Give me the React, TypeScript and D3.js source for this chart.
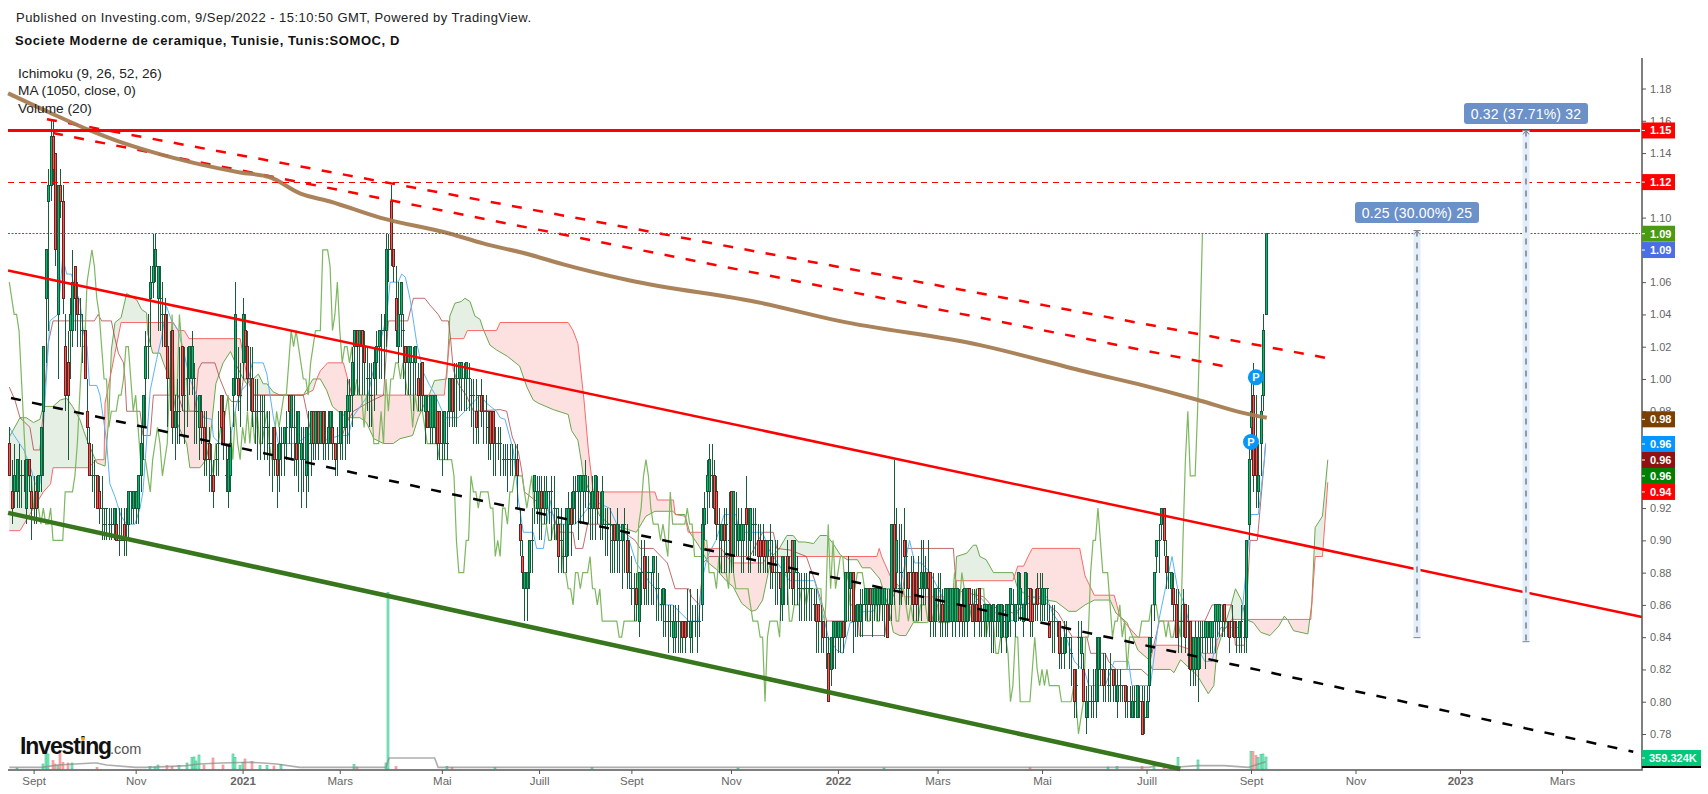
import { useEffect, useRef } from "react";
import * as d3 from "d3";

// all prices in cents unless noted, one entry per trading bar
const opens = [
  96,93,93,93,94,94,94,92,95,93, 92,93,93,94,98,105,111,112,115,114,
  104,112,111,102,101,103,103,107,105,104, 103,103,98,96,94,94,94,93,92,91,
  92,91,91,91,91,90,90,91,90,91, 93,92,92,92,94,97,100,102,105,106,
  107,105,105,104,104,102,100,103,97,98, 98,102,99,100,100,100,100,98,97,98,
  97,95,96,94,94,95,96,99,98,94, 93,94,99,100,100,99,101,103,102,100,
  100,98,98,98,98,97,97,96,96,97, 95,95,96,96,97,99,97,97,96,96,
  95,95,94,96,96,98,96,98,96,98, 96,96,97,97,96,96,96,97,97,98,
  98,99,102,103,102,103,102,100,100,99, 100,101,102,103,103,103,108,111,108,105,
  102,104,103,102,101,101,101,101,100,100, 101,98,98,97,97,97,98,98,96,96,
  96,98,100,100,100,100,100,100,100,100, 99,99,98,99,99,98,98,97,98,98,
  96,96,96,95,95,95,95,95,95,95, 91,89,87,87,88,90,93,92,92,93,
  92,92,93,93,92,92,91,90,89,89, 91,92,92,93,93,93,93,93,93,92,
  92,92,93,92,91,91,91,91,90,91, 90,90,90,91,90,88,87,87,87,85,
  88,89,88,88,88,88,87,87,86,86, 85,85,85,84,84,85,85,85,85,85,
  84,85,85,85,85,86,91,93,93,94, 94,93,91,90,91,91,90,93,89,91,
  90,90,90,92,91,90,91,91,90,90, 90,90,89,90,89,88,88,88,86,88,
  89,88,90,88,88,87,87,87,87,87, 87,86,86,86,85,85,84,83,82,84,
  84,84,84,85,85,88,87,88,85,85, 85,86,86,86,87,86,86,86,86,86,
  86,86,86,86,91,88,87,88,90,89, 88,88,88,88,87,87,88,87,88,88,
  85,85,87,85,86,85,85,85,85,85, 85,86,86,85,85,87,86,86,86,87,
  85,85,85,85,85,85,85,85,84,85, 84,85,86,86,85,86,86,85,86,87,
  87,86,86,87,87,86,86,87,85,85, 85,85,85,83,83,84,84,83,82,81,
  84,83,82,79,80,80,80,80,82,82, 82,82,81,82,82,81,80,81,81,81,
  80,80,79,80,79,80,80,79,79,81, 84,86,89,90,91,92,89,88,87,87,
  86,85,85,86,86,85,85,82,82,82, 84,84,84,84,84,84,85,85,85,85,
  86,85,85,85,85,84,84,85,84,84, 91,97,99,96,93,96,99,104,
];
const closes = [
  94,92,94,95,94,94,94,95,94,92, 92,92,94,97,102,108,112,115,113,108,
  112,111,105,99,99,104,106,105,104,104, 103,100,97,94,94,94,92,92,92,91,
  92,91,91,92,90,90,90,90,90,93, 93,93,93,94,96,99,102,102,106,107,
  108,107,105,104,102,100,100,97,98,98, 98,99,99,100,102,102,100,98,99,97,
  95,95,95,94,93,95,96,97,96,94, 95,96,100,104,99,99,104,102,100,100,
  98,98,98,98,98,97,97,96,96,95, 94,96,96,97,97,98,99,97,95,98,
  96,95,97,96,98,96,98,96,98,96, 96,97,98,96,95,96,98,97,98,99,
  99,101,103,102,103,102,101,100,100,99, 101,102,103,103,103,108,108,108,107,103,
  104,106,103,101,102,102,101,102,99,100, 99,99,97,99,99,99,96,96,96,98,
  96,100,98,100,100,101,101,100,101,100, 99,99,97,99,98,98,98,97,96,96,
  96,96,96,95,95,95,95,95,95,94, 90,88,88,88,90,90,94,93,93,92,
  93,93,93,93,92,92,89,90,89,92, 92,91,93,93,94,94,94,94,93,92,
  93,94,92,92,93,91,91,91,90,90, 91,90,91,91,88,88,87,87,86,88,
  88,87,88,88,88,89,87,87,86,87, 85,85,85,85,85,85,85,84,84,85,
  85,85,85,85,85,91,92,94,95,94, 92,91,91,91,90,91,90,89,93,91,
  91,91,91,91,91,92,91,91,89,89, 89,89,90,90,88,88,88,87,89,88,
  88,88,87,90,88,87,87,87,87,87, 87,86,85,85,85,84,84,80,84,85,
  85,85,85,84,88,88,88,85,85,86, 86,86,87,87,86,87,87,87,87,87,
  87,84,86,91,87,90,87,88,89,89, 87,88,86,86,87,88,88,88,87,85,
  85,87,87,85,85,87,87,87,87,87, 87,85,85,87,87,86,85,86,85,85,
  85,86,86,86,85,86,85,86,86,85, 86,86,87,86,86,88,87,86,88,87,
  85,85,86,86,87,87,87,87,84,85, 85,85,83,83,84,84,84,83,80,81,
  84,84,80,80,80,80,80,82,84,82, 81,82,81,82,81,81,81,81,81,80,
  80,80,80,80,81,80,78,79,80,84, 84,88,90,90,92,90,88,88,88,86,
  84,85,85,86,84,85,82,84,84,84, 84,84,85,85,85,85,86,86,86,85,
  85,85,84,85,84,84,85,85,84,90, 95,98,94,94,94,98,103,109,
];
const highs = [
  97,95,96,95,96,95,95,95,95,94, 94,94,94,97,102,108,113,116,116,114,
  112,113,112,104,103,105,108,107,106,105, 104,103,100,97,96,95,94,94,94,92,
  92,92,92,92,92,92,92,92,92,93, 93,93,93,94,97,99,103,104,107,109,
  109,107,107,106,105,104,103,103,99,100, 102,102,102,102,102,103,101,99,99,99,
  98,98,97,96,95,96,98,99,99,96, 96,97,100,106,102,101,105,104,103,102,
  102,100,100,99,99,99,98,98,97,97, 96,97,97,97,98,99,99,99,98,98,
  97,97,97,98,98,98,98,98,98,98, 98,98,98,98,96,97,98,98,98,100,
  100,102,103,103,103,103,103,102,101,101, 102,103,103,104,104,109,109,112,108,107,
  106,106,104,102,102,102,102,102,101,101, 101,99,99,99,99,99,98,98,98,98,
  98,100,100,101,101,101,101,101,101,101, 100,100,100,99,100,99,99,98,98,98,
  97,97,97,96,96,96,96,96,96,96, 92,90,88,88,90,92,94,94,94,94,
  94,94,93,94,94,92,92,92,91,92, 93,93,94,94,94,94,94,95,94,93,
  94,94,94,93,94,92,92,92,91,91, 92,91,91,92,91,90,89,88,88,88,
  90,90,89,89,88,89,89,88,87,87, 87,86,86,86,86,86,85,85,85,87,
  87,86,86,87,86,92,93,95,96,96, 95,94,92,91,92,92,93,93,93,93,
  92,92,91,94,92,92,92,92,91,91, 91,90,90,91,90,90,90,88,89,89,
  90,89,90,90,89,88,88,88,88,88, 87,87,87,86,86,85,85,84,84,85,
  85,85,85,85,88,89,88,88,86,86, 87,87,87,87,87,87,87,87,87,87,
  87,87,87,91,95,92,91,91,92,90, 88,89,89,88,89,90,90,89,90,88,
  88,87,88,88,87,87,87,87,87,87, 87,87,87,87,87,87,87,87,87,87,
  86,86,86,86,86,86,86,86,86,86, 86,86,87,87,86,88,88,86,88,88,
  87,87,87,88,88,88,87,87,86,86, 86,85,85,84,85,85,84,84,82,82,
  85,85,83,81,82,81,82,84,84,84, 83,83,82,83,82,82,82,82,81,81,
  81,81,81,81,81,81,81,81,81,84, 86,88,90,91,92,92,90,89,88,88,
  87,87,86,87,86,86,85,84,85,85, 85,85,85,85,85,85,86,86,86,86,
  86,85,85,86,85,85,85,86,86,90, 96,100,101,99,96,99,104,109,
];
const lows = [
  94,91,92,92,92,92,93,91,93,90, 91,91,92,93,94,101,103,111,112,107,
  100,110,104,98,95,100,102,103,102,102, 101,100,96,94,93,92,92,91,90,90,
  90,90,90,90,90,89,90,89,89,90, 91,91,91,91,93,95,97,100,102,105,
  106,103,103,102,102,97,98,96,95,96, 96,98,96,97,99,99,96,96,95,96,
  94,94,93,93,92,94,94,96,95,93, 92,93,97,99,98,97,100,101,98,98,
  97,96,95,95,96,95,95,94,93,94, 92,93,94,94,95,96,95,94,94,93,
  92,93,92,93,94,95,95,95,96,95, 95,95,96,95,94,94,95,95,95,96,
  96,97,99,99,99,99,99,98,97,97, 98,99,100,100,100,102,106,107,106,102,
  101,102,100,99,99,99,98,99,98,98, 98,96,97,96,96,96,95,95,94,95,
  95,97,97,97,97,98,98,98,98,98, 97,96,96,96,97,96,96,95,95,94,
  94,95,94,94,94,93,94,94,94,92, 89,87,85,85,87,88,91,91,90,90,
  91,91,91,90,90,90,88,88,88,88, 89,89,91,91,90,91,91,92,91,90,
  90,90,91,90,90,89,89,88,88,88, 88,88,87,88,87,87,86,85,85,84,
  86,86,86,86,86,86,85,85,85,84, 84,83,84,83,83,83,83,83,83,84,
  83,83,84,83,84,85,90,91,92,92, 91,90,88,88,88,88,88,88,88,89,
  89,88,88,89,88,88,89,89,88,88, 88,88,88,87,87,86,86,85,85,86,
  86,87,86,86,86,85,85,85,85,85, 85,85,83,83,83,83,82,80,81,82,
  82,83,83,83,84,85,85,83,84,84, 84,84,85,85,85,84,85,85,85,85,
  84,84,85,85,86,87,86,86,87,86, 86,86,85,85,85,85,86,86,85,84,
  84,84,85,84,84,84,84,85,84,84, 85,84,84,84,84,85,85,84,85,84,
  84,84,84,84,83,83,84,84,83,84, 83,84,84,85,84,85,85,84,85,85,
  84,84,85,85,85,85,85,85,84,83, 83,84,82,82,82,83,82,81,79,79,
  82,82,80,78,79,79,79,79,80,81, 80,80,80,80,80,80,79,80,80,79,
  79,79,79,79,79,79,78,78,79,80, 83,85,88,88,90,89,87,87,86,85,
  84,83,83,84,83,82,81,81,81,80, 82,83,82,83,83,83,83,84,84,84,
  84,84,83,84,84,83,83,83,83,83, 90,95,93,92,92,94,98,104,
];

const tenkanBars = [0,2,6,9,10.6,12.6,14.7,16.7,20,22,23.6,25.6,27,29,30.4,32,33,36,37.3,40,41.4,43.5,46,48.3,51.7,53.8,55,58,60.6,62.7,64.7,66.8,69.5,71.6,74.3,77,80,83.3,84,86.7,90.8,91.5,93.6,95.6,98,100,104.5,106,108.6,110.7,118.2,123.7,125.8,136,139.5,141.6,147.7,149,155.3,156.7,160,161.5,163,165,167.7,170.4,173,175,179.3,184.8,187.5,193.7,196.4,200.5,202,204,207.4,209.5,211.5,215.6,217,219.8,222.5,224.5,227.3,233,237.6,239.6,247,250,254,258,263,266,267.5,273,279.6,283.7,285,287.3,290.8,294.2,299,300.4,310,312.7,321,331.4,334,337,340.5,343,346,349.4,351.5,355.5,361,366.5,370.5,372.6,375.4,378.9,385.7,394,399.4,404.6,413,416.6,420.4,427,429.3,433.8,438.3,442.7,444.2,451,454.7,460.6,462,469.6,473,478.5,480.8,483.8,486.7,492,495,497,498.6,503,506.8,511,514,516.5,517];
const tenkanVals = [97,96.5,95.6,94.4,93.5,93.5,98.7,103.6,104,107.6,106.5,106.5,105.5,104.9,103,102,99.6,99.6,99,96.2,93.5,92.7,91.5,91,91,92,93,99.3,101.2,102.6,104.5,103.6,103,101.8,100,99,97.6,97.5,96.4,96,96,96.8,98.5,99.3,99.7,101,101,100.3,97.7,96,96,96.6,96,96.5,96.5,97.7,99,100,103.9,106,106,106.5,106.3,104.9,102.2,100.4,99.6,99.1,97.6,97.6,98,99,98.5,98,97.6,97.5,95.6,92.5,90.5,90.5,89.5,89.5,92.5,91,91,91,91.9,92.5,92,91,90.5,88.6,87.5,87,86,86,85,85,87.5,89,90,91.6,91.6,90.5,90.5,89.4,87.5,87.5,86,84,83.2,83,84.9,85,85.6,85.6,87,87,90,88.6,88.6,88,86,85.6,86.5,85.6,85,86,86.5,86.5,85.5,84.5,82.5,81.8,81,81,82.5,82.5,81,81,85,89,87,86,84,82.5,82.5,84,84.6,84.6,84.6,91.6,91.6,95,96];

const kijunBars = [0,2.3,4.4,8.5,10,12.6,14,16,18,35,36.6,38,42,43.5,44.9,47,47.6,48.3,53.8,55,58,59.3,69.5,71.6,76.4,77.8,79.2,84.6,86.7,89.4,91.5,95,96.3,99,100.4,121,123.7,125.8,136,138.8,141.6,148.4,154,156,164,166.3,171,173,176.5,178,180.7,181.6,182.7,184.7,188,191,202,204.7,207,209.5,211,212,223.9,225,226.8,232,233,236,238,247,252,257.5,259.6,265,270.8,272,274,279.6,280.8,284,285.6,288,304.8,310,314.4,315.8,321.3,328,331.5,334,336.4,349.4,349.8,360.3,361.7,365,367.5,369.3,388.5,389.8,401,404.6,413,419.6,427,431.6,437.5,443.5,445,451,452.4,455.4,465.8,468.8,469.6,473.3,492,495,503,504.6,508.3,510.6,513.6,516.5,517];
const kijunVals = [99.5,98.7,97.6,97,95.6,95.6,98,102.2,103.6,103.6,104,103.6,103.6,102.5,101.6,101,100,98,98,96.5,96.5,99,99,98,98,100.6,101,101,100,99,98.6,98.6,100,100,99,99,97,96,96,97.3,98,98.6,99,103.6,103.6,105,105,104.6,104,103.6,103.6,102.5,100.6,99.7,99,98,98.1,98,96.4,95.5,94.2,93,91.6,91,90.5,90.5,89.5,89.5,91,91,90.6,90,89.5,89.5,88.6,88,87,87,86.5,86,88.6,89,89,90.5,90.5,89.5,89.4,89,87.5,86.3,85,85,84.1,84.1,86,86.9,86.5,89.5,89.5,86.9,86.5,85.9,85.5,86.1,86.1,85.5,84,84,83,83,82.5,82,82,81.6,82.6,85,85,86,86,83.5,83.5,90,90,95,96];

const leadABars = [0,4.4,7,10,12.6,14,18,21,23.6,26,29,32,36,39.4,41,42,43.5,46,48.3,52.4,54.5,56.5,57,59,62,63.4,66,67.5,69,71,73,74.3,78.5,81,82.6,85,88,91,93.6,96.3,97.7,100.4,102.5,104.5,106,108.6,111.4,118,121,125,128,130.6,133,136,139.5,144.3,147,150,154,158,160.8,166,168.3,170.4,173,175,180,181.3,183.4,186,187.5,189.6,191.6,193.7,195,197.8,200.5,205,210,213,215.6,217.7,223.9,230,231.4,234,235.5,236.2,239.6,243,247,254,258,262,265.7,273,274.5,278,280,284,287.7,291,295,298,301.4,305.5,307.5,310,313.7,316.5,320,322.6,324.7,327.4,331,333.6,336.4,339,342,344.8,349,351,354.4,358.3,361.7,363.8,366.5,369,372,377.5,380,383,387,389,389.8,394,396.7,398,399.4,402,405,413,415,419.6,427,430.8,436,439,442.7,446.5,453,455.4,460,464.4,469,470.3,477.8,479.3,482,489,493.4,495.7,497,503,504.6,507,509,512,515,518.8,522.5,524.7,526,528.5,534.4,536,537.4,540.4,542.6];
const leadAVals = [96.4,97.6,97.6,97.3,97.5,98.3,98.3,98.7,98.8,98.3,97.5,96.2,94.8,94.6,97.7,101.8,103.5,103.8,105.3,104.9,104.3,104.1,102.8,101.6,101.6,101,100,99.1,97.3,96.6,96,94.5,94.5,95,96.2,99.7,101,101.7,100.8,100,99.7,100,100.3,99.7,99.7,99.2,99,99,99,100,100,99.3,98.3,97.9,97.6,97.6,97.3,96.3,96,96,96.3,96.5,97.6,98.3,99.1,99.9,100,103.9,104.7,104.8,105,104.8,103.9,103.7,103.1,102.1,101.8,101.4,100.8,99.5,98.7,98.5,98.1,97.8,96.8,96.2,94.8,94,92.7,91.5,91,90.7,90.5,91.5,91.8,91.8,91.6,91.6,90.5,89.6,88.6,88.2,87.5,87.1,86.1,85.6,85.7,86.3,89,89.4,90.3,90.3,89.9,89.9,89.8,90.3,90.3,89.8,89.1,88.8,88.8,88.3,88.3,87.6,85.9,84.3,84.1,84.1,84.9,84.9,85.1,84.9,84.9,86.3,89,89.2,89.7,89.7,89,88.8,88,88,87,86.5,86.3,86.2,85.6,85.6,86,86.3,86.3,85.5,84.9,83.2,82.6,82,82,81.8,82.6,81.6,80.5,81,83.2,86.1,87,86.3,85.1,84.9,84.3,84.1,84.7,85.3,85.1,84.4,84.2,86.1,90.8,91.5,95];

const leadBBars = [0,4.4,10,14,17,18,32.5,36,39,39.4,44,46,67.5,69.5,72,74,95,98,100.4,121,125,126.5,128,131,137.5,141,179,181.3,187,188.5,200.5,202,230,232,234,236.5,238.3,240.3,265.7,266.7,273.3,274,278,279.4,285.6,286.3,293,297.3,310.3,311.7,357,358,359,362.5,367,368.6,389,389.8,413,415,417.4,419.6,421,440.5,442.7,446.5,454.7,457,459,464.4,469.6,470,480.8,491,496.4,497,503,535.6,537.4,540.4,542.6];
const leadBVals = [90.6,90.6,92,93,93.5,94.5,94.5,95,95,98.5,102,103.5,103.5,103,103,102.5,102.5,100,99,99,99.3,100,100.5,101,101,99,99,102.5,102.5,103,103,103.5,103.5,103,102.2,98.7,95.6,93,93,92.5,92.5,91.6,91.5,90.5,90.5,89.5,89.5,88.6,88.6,89,89,89.5,89,87.8,87,86.5,86.5,87.5,87.5,88.4,88.4,89.1,89.5,89.5,87.8,86.6,86.6,85.3,84.9,84,84,83.5,83.5,83,83,83.8,85.1,85.1,89,89,93.6];

const maBars = [-0.5,16.7,33.2,43.5,57.9,78.5,95,107.3,119.6,132,152.5,181.4,195,214.3,228,255.4,309.8,341.4,399.5,444.3,466.6,489.2,507.7,517.5];
const maVals = [117.7,116.5,115.4,114.8,114.1,113.3,112.8,112.5,111.5,111,110,109,108.4,107.7,107.1,106.1,104.7,103.6,102.1,100.4,99.6,98.7,97.9,97.6];

// volume in thousands, only the bars that show a visible column
const volBars = [3,14,15,16,18,19,20,21,22,24,26,36,58,60,61,65,67,70,73,75,76,77,78,80,84,88,92,93,95,96,97,100,103,106,109,112,142,143,155,156,159,180,182,200,240,300,360,420,452,456,466,471,475,481,489,511,512,513,514,515,516,517];
const volVals = [30,150,500,450,250,150,100,500,200,180,180,50,80,60,120,100,80,100,180,340,360,240,420,120,330,120,450,350,100,200,300,230,100,110,90,130,140,60,180,5280,80,80,40,40,40,30,30,40,60,70,80,110,90,350,270,530,520,400,350,440,450,359];
const volMaBars = [0,13.3,20,34.5,36,40,52,56,67,73,78,87,99,104.5,110,119.6,155,156.3,175,176.5,469,472,481,489,500,510,517];
const volMaVals = [50,50,120,180,180,120,50,50,80,100,150,180,200,180,150,50,50,330,330,50,50,100,60,100,100,50,220];

const priceTicks = d3.range(78, 119, 2).map((c) => c / 100);
const timeTickBars = [10,52,96,136,178,218,256,297,341,382,425,468,511,554,597,639];
const timeTickLabels = ["Sept","Nov","2021","Mars","Mai","Juill","Sept","Nov","2022","Mars","Mai","Juill","Sept","Nov","2023","Mars"];
const boldTicks = ["2021","2022","2023"];

// last-value tags: text, position on the price scale (cents), colour
const tagTexts = ["1.15","1.12","1.09","1.09","0.98","0.96","0.96","0.96","0.94"];
const tagCents = [115.4,112.2,109,107.99,97.5,95.97,94.98,93.99,93];
const tagColors = ["#ff0000","#ff0000","#4a9a12","#4a6fe3","#7a4000","#0496ff","#8f1212","#008000","#ff0000"];

export default function App() {
  const svgRef = useRef<SVGSVGElement>(null);
  const width = 1708;
  const height = 794;

  useEffect(() => {
    if (!svgRef.current) return;
    const svg = d3.select(svgRef.current);
    svg.selectAll("*").remove();

    const left = 8;
    const axisX = 1642;
    const axisY = 770;

    const x = d3.scaleLinear().domain([0, 517]).range([9.3, 1265.6]);
    const y = d3.scaleLinear().domain([78, 118]).range([734, 88.5]);
    const vol = d3.scaleLinear().domain([0, 359.324]).range([769, 757]);

    svg.append("rect").attr("width", width).attr("height", height).attr("fill", "#fff");

    const plot = svg.append("g");

    const line = d3
      .line<[number, number]>()
      .x((d) => x(d[0]))
      .y((d) => y(d[1]));
    const zip = (a: number[], b: number[]) =>
      a.map((v, i) => [v, b[i]] as [number, number]);
    const path = (pts: [number, number][], color: string, w: number, dash?: string) =>
      plot
        .append("path")
        .attr("d", line(pts))
        .attr("fill", "none")
        .attr("stroke", color)
        .attr("stroke-width", w)
        .attr("stroke-dasharray", dash ?? null);

    // Cloud, filled between the two leading spans
    const aAt = d3.scaleLinear().domain(leadABars).range(leadAVals);
    const bAt = d3.scaleLinear().domain(leadBBars).range(leadBVals);
    const cloudBars = d3.range(0, 542.6, 0.5);
    const greenArea = d3
      .area<number>()
      .x((b) => x(b))
      .y0((b) => y(bAt(b)))
      .y1((b) => y(Math.max(aAt(b), bAt(b))));
    const redArea = d3
      .area<number>()
      .x((b) => x(b))
      .y0((b) => y(bAt(b)))
      .y1((b) => y(Math.min(aAt(b), bAt(b))));
    plot.append("path").attr("d", greenArea(cloudBars)).attr("fill", "#e6efe3");
    plot.append("path").attr("d", redArea(cloudBars)).attr("fill", "#fde0e0");

    path(zip(leadABars, leadAVals), "#6aa84f", 1);
    path(zip(leadBBars, leadBVals), "#f76a6a", 1);
    path(zip(kijunBars, kijunVals), "#a83c3c", 1).attr("opacity", 0.75);
    path(zip(tenkanBars, tenkanVals), "#5cb3f7", 1);

    // Lagging span: the closes, plotted 26 bars back
    path(
      closes.map((c, i) => [i - 26, c] as [number, number]).filter((d) => d[0] >= -0.5),
      "#7db75f",
      1.2,
    );

    // Volume
    plot
      .selectAll(".vol")
      .data(volBars)
      .join("rect")
      .attr("x", (b) => Math.round(x(b)) - 1)
      .attr("width", 2)
      .attr("y", (_, i) => vol(volVals[i]))
      .attr("height", (_, i) => 769 - vol(volVals[i]))
      .attr("fill", (b) => (closes[b] >= opens[b] ? "#86e8bf" : "#fbaaaa"))
      .attr("stroke", (b) => (closes[b] >= opens[b] ? "#3cc890" : "#f58a8a"))
      .attr("stroke-width", 0.6);
    plot
      .append("path")
      .attr(
        "d",
        d3
          .line<[number, number]>()
          .x((d) => x(d[0]))
          .y((d) => vol(d[1]))(zip(volMaBars, volMaVals)),
      )
      .attr("fill", "none")
      .attr("stroke", "#8a8a8a")
      .attr("stroke-width", 1.6)
      .attr("opacity", 0.7);

    // Candles, snapped to whole pixels so the wicks stay one pixel wide
    const candles = plot.append("g").attr("shape-rendering", "crispEdges");
    closes.forEach((c, i) => {
      const o = opens[i];
      const up = c >= o;
      const cx = Math.round(x(i)) + 0.5;
      candles
        .append("line")
        .attr("x1", cx)
        .attr("x2", cx)
        .attr("y1", y(highs[i]))
        .attr("y2", y(lows[i]))
        .attr("stroke", "#1b5c3c")
        .attr("stroke-width", 1);
      if (o === c) {
        candles
          .append("line")
          .attr("x1", cx - 1.5)
          .attr("x2", cx + 1.5)
          .attr("y1", y(c))
          .attr("y2", y(c))
          .attr("stroke", "#1b5c3c");
        return;
      }
      candles
        .append("rect")
        .attr("x", cx - 1)
        .attr("width", 2)
        .attr("y", y(Math.max(o, c)))
        .attr("height", Math.abs(y(o) - y(c)))
        .attr("fill", up ? "#00bd6c" : "#f5594e")
        .attr("stroke", up ? "#17593b" : "#6e1f1f")
        .attr("stroke-width", 1);
    });

    // Trend lines
    path([[-0.5, 106.72], [671.9, 85.25]], "#ff0000", 2.5);
    path([[0.7, 98.82], [668.3, 76.9]], "#000", 2.5, "10 11.5");
    path([[15.5, 116.1], [544.3, 101.24]], "#ff0000", 2.5, "10 11.5");
    path([[18, 115.24], [501.5, 100.74]], "#ff0000", 2.5, "10 11.5");
    path([[-0.5, 91.7], [481.9, 75.83]], "#38761d", 4.5);
    path(zip(maBars, maVals), "#a67c52", 4)
      .attr("d", line.curve(d3.curveMonotoneX)(zip(maBars, maVals)))
      .attr("opacity", 0.95);
    line.curve(d3.curveLinear);

    // Horizontal levels
    const hline = (c: number, color: string, w: number, dash?: string) =>
      plot
        .append("line")
        .attr("x1", left)
        .attr("x2", axisX - 2)
        .attr("y1", Math.round(y(c)) + 0.5)
        .attr("y2", Math.round(y(c)) + 0.5)
        .attr("stroke", color)
        .attr("stroke-width", w)
        .attr("stroke-dasharray", dash ?? null);
    hline(115.4, "#ff0000", 3);
    hline(112.2, "#ff0000", 1, "6 5");
    hline(109.03, "#3d5fd6", 1, "2 1.5");

    // Measure arrows with their labels
    const measures = [
      { bar: 579.3, low: 83.97, high: 109.2, text: "0.25 (30.00%) 25", bw: 124, by: 212.5 },
      { bar: 624, low: 83.72, high: 115.4, text: "0.32 (37.71%) 32", bw: 124, by: 113.5 },
    ];
    measures.forEach((m) => {
      const mx = Math.round(x(m.bar));
      plot
        .append("rect")
        .attr("x", mx - 3.5)
        .attr("width", 7)
        .attr("y", y(m.high))
        .attr("height", y(m.low) - y(m.high))
        .attr("fill", "#e3eefc");
      plot
        .append("line")
        .attr("x1", mx)
        .attr("x2", mx)
        .attr("y1", y(m.high))
        .attr("y2", y(m.low))
        .attr("stroke", "#9598a1")
        .attr("stroke-width", 2)
        .attr("stroke-dasharray", "6 6");
      plot
        .append("path")
        .attr("d", `M${mx - 3},${y(m.high) + 4}L${mx},${y(m.high)}L${mx + 3},${y(m.high) + 4}M${mx - 3.5},${y(m.high)}H${mx + 3.5}`)
        .attr("fill", "none")
        .attr("stroke", "#80838d")
        .attr("stroke-width", 1);
      plot
        .append("line")
        .attr("x1", mx - 3.5)
        .attr("x2", mx + 3.5)
        .attr("y1", y(m.low))
        .attr("y2", y(m.low))
        .attr("stroke", "#80838d");
      plot
        .append("rect")
        .attr("x", mx - m.bw / 2)
        .attr("y", m.by - 10.5)
        .attr("width", m.bw)
        .attr("height", 21)
        .attr("rx", 3)
        .attr("fill", "#6c90c8");
      plot
        .append("text")
        .attr("x", mx)
        .attr("y", m.by + 5)
        .attr("text-anchor", "middle")
        .attr("fill", "#fff")
        .attr("font-size", 14)
        .attr("letter-spacing", 0.2)
        .text(m.text);
    });

    // "P" bubbles
    [
      { bar: 513, c: 100.1 },
      { bar: 511, c: 96.1 },
    ].forEach((p) => {
      plot
        .append("circle")
        .attr("cx", x(p.bar))
        .attr("cy", y(p.c))
        .attr("r", 8)
        .attr("fill", "#0a96f5");
      plot
        .append("text")
        .attr("x", x(p.bar))
        .attr("y", y(p.c) + 4)
        .attr("text-anchor", "middle")
        .attr("fill", "#fff")
        .attr("font-size", 11)
        .attr("font-weight", 700)
        .text("P");
    });

    // Axes
    const priceAxis = svg
      .append("g")
      .attr("transform", `translate(${axisX},0)`)
      .call(
        d3
          .axisRight(d3.scaleLinear().domain([0.78, 1.18]).range([734, 88.5]))
          .tickValues(priceTicks)
          .tickSize(4)
          .tickPadding(4)
          .tickFormat(d3.format(".2f")),
      );
    priceAxis.select(".domain").remove();
    priceAxis.selectAll("text").attr("fill", "#666").attr("font-size", 11);
    priceAxis.selectAll("line").attr("stroke", "#555");

    const timeAxis = svg
      .append("g")
      .attr("transform", `translate(0,${axisY})`)
      .call(
        d3
          .axisBottom(x)
          .tickValues(timeTickBars)
          .tickSize(4)
          .tickPadding(3)
          .tickFormat((_, i) => timeTickLabels[i]),
      );
    timeAxis.select(".domain").remove();
    timeAxis
      .selectAll("text")
      .attr("fill", "#666")
      .attr("font-size", 11.5)
      .attr("font-weight", (_, i) => (boldTicks.includes(timeTickLabels[i]) ? 700 : 400));
    timeAxis.selectAll("line").attr("stroke", "#555");

    svg
      .append("path")
      .attr("d", `M${left},${axisY}H${axisX}V58`)
      .attr("fill", "none")
      .attr("stroke", "#555")
      .attr("stroke-width", 1.5);

    // Last-value tags on the price axis
    tagTexts.forEach((t, i) => {
      const cy = y(tagCents[i]);
      svg
        .append("rect")
        .attr("x", axisX)
        .attr("y", cy - 8)
        .attr("width", 33)
        .attr("height", 16)
        .attr("fill", tagColors[i]);
      svg
        .append("line")
        .attr("x1", axisX)
        .attr("x2", axisX + 3)
        .attr("y1", cy)
        .attr("y2", cy)
        .attr("stroke", "#fff");
      svg
        .append("text")
        .attr("x", axisX + 8)
        .attr("y", cy + 4)
        .attr("fill", "#fff")
        .attr("font-size", 11)
        .attr("font-weight", 700)
        .text(t);
    });
    svg.append("rect").attr("x", axisX).attr("y", 766).attr("width", 59).attr("height", 2).attr("fill", "#000");
    svg.append("rect").attr("x", axisX).attr("y", 750).attr("width", 59).attr("height", 16).attr("fill", "#00c878");
    svg.append("line").attr("x1", axisX).attr("x2", axisX + 3).attr("y1", 758).attr("y2", 758).attr("stroke", "#fff");
    svg
      .append("text")
      .attr("x", axisX + 7)
      .attr("y", 762)
      .attr("fill", "#fff")
      .attr("font-size", 11)
      .attr("font-weight", 700)
      .text("359.324K");

    // Header and legend
    svg
      .append("text")
      .attr("x", 16)
      .attr("y", 22)
      .attr("font-size", 13)
      .attr("letter-spacing", 0.46)
      .attr("fill", "#222")
      .text("Published on Investing.com, 9/Sep/2022 - 15:10:50 GMT, Powered by TradingView.");
    svg
      .append("text")
      .attr("x", 15)
      .attr("y", 45)
      .attr("font-size", 13)
      .attr("font-weight", 700)
      .attr("letter-spacing", 0.58)
      .attr("fill", "#111")
      .text("Societe Moderne de ceramique, Tunisie, Tunis:SOMOC, D");
    ["Ichimoku (9, 26, 52, 26)", "MA (1050, close, 0)", "Volume (20)"].forEach((t, i) => {
      svg
        .append("text")
        .attr("x", 18)
        .attr("y", 78 + i * 17.3)
        .attr("font-size", 13.7)
        .attr("fill", "#222")
        .text(t);
    });

    // Watermark
    const logo = svg.append("g");
    logo
      .append("text")
      .attr("x", 20)
      .attr("y", 754)
      .attr("font-size", 23)
      .attr("font-weight", 700)
      .attr("letter-spacing", -1.1)
      .attr("fill", "#111")
      .text("Investing");
    logo
      .append("text")
      .attr("x", 110)
      .attr("y", 754)
      .attr("font-size", 14.5)
      .attr("fill", "#555")
      .text(".com");
    logo.append("circle").attr("cx", 83).attr("cy", 739).attr("r", 2).attr("fill", "#f5a623");
  }, []);

  return (
    <svg
      ref={svgRef}
      width={width}
      height={height}
      style={{ position: "fixed", left: 0, top: 0, fontFamily: "'Liberation Sans', Arial, sans-serif" }}
    />
  );
}
